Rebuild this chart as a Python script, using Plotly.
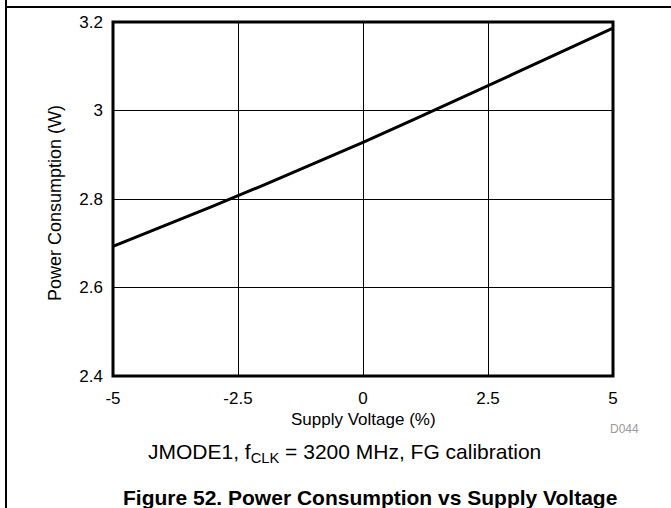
import plotly.graph_objects as go

# Data
supply_voltage_pct = [-5, -4, -3, -2, -1, 0, 1, 2, 3, 4, 5]
power_w = [2.693, 2.738, 2.784, 2.831, 2.879, 2.928, 2.979, 3.030, 3.082, 3.134, 3.186]

x_tick_vals = [-5, -2.5, 0, 2.5, 5]
x_tick_text = ["-5", "-2.5", "0", "2.5", "5"]
y_tick_vals = [2.4, 2.6, 2.8, 3.0, 3.2]
y_tick_text = ["2.4", "2.6", "2.8", "3", "3.2"]

x_title = "Supply Voltage (%)"
y_title = "Power Consumption (W)"
caption = "JMODE1, f<sub>CLK</sub> = 3200 MHz, FG calibration"
fig_title = "<b>Figure 52. Power Consumption vs Supply Voltage</b>"
code = "D044"

FONT = "Arial, 'Liberation Sans', Helvetica, sans-serif"

fig = go.Figure()
fig.add_trace(go.Scatter(
    x=supply_voltage_pct, y=power_w, mode="lines",
    line=dict(color="black", width=3), hoverinfo="skip", showlegend=False,
))

fig.update_layout(
    width=671, height=508,
    margin=dict(l=113, r=58, t=22, b=132, pad=0),
    paper_bgcolor="white", plot_bgcolor="white",
    font=dict(family=FONT, size=17, color="black"),
    showlegend=False,
    xaxis=dict(
        range=[-5, 5], tickvals=x_tick_vals, ticktext=x_tick_text,
        showgrid=True, gridcolor="black", gridwidth=1,
        zeroline=False, showline=False, ticks="",
        tickfont=dict(size=17, family=FONT, color="black"),
        ticklabelstandoff=10,
    ),
    yaxis=dict(
        range=[2.4, 3.2], tickvals=y_tick_vals, ticktext=y_tick_text,
        showgrid=True, gridcolor="black", gridwidth=1,
        zeroline=False, showline=False, ticks="",
        tickfont=dict(size=17, family=FONT, color="black"),
        ticklabelstandoff=9,
    ),
    shapes=[
        dict(type="rect", xref="paper", yref="paper", x0=0, x1=1, y0=0, y1=1,
             line=dict(color="black", width=3), layer="above"),
        dict(type="line", xref="paper", yref="paper", x0=-0.214, x1=1.116, y0=1.0424, y1=1.0424,
             line=dict(color="black", width=2), layer="above"),
        dict(type="line", xref="paper", yref="paper", x0=-0.214, x1=-0.214, y0=-0.4, y1=1.1,
             line=dict(color="black", width=2), layer="above"),
    ],
    annotations=[
        dict(text=x_title, xref="paper", yref="paper", x=0.5, y=-0.1215,
             xanchor="center", yanchor="middle", showarrow=False,
             font=dict(size=17, family=FONT, color="black")),
        dict(text=code, xref="paper", yref="paper", x=1.022, y=-0.1497,
             xanchor="center", yanchor="middle", showarrow=False,
             font=dict(size=12, family=FONT, color="#999999")),
        dict(text=caption, xref="paper", yref="paper", x=0.463, y=-0.2175,
             xanchor="center", yanchor="middle", showarrow=False,
             font=dict(size=21, family=FONT, color="black")),
        dict(text=fig_title, xref="paper", yref="paper", x=0.5134, y=-0.3446,
             xanchor="center", yanchor="middle", showarrow=False,
             font=dict(size=21, family=FONT, color="black")),
        dict(text=y_title, xref="paper", yref="paper", x=-0.116, y=0.4887,
             xanchor="center", yanchor="middle", showarrow=False, textangle=-90,
             font=dict(size=18, family=FONT, color="black")),
    ],
)

fig.write_html(
    "out.html",
    config={"displayModeBar": False},
    post_script="document.body.style.margin='0';document.body.style.overflow='hidden';",
)
